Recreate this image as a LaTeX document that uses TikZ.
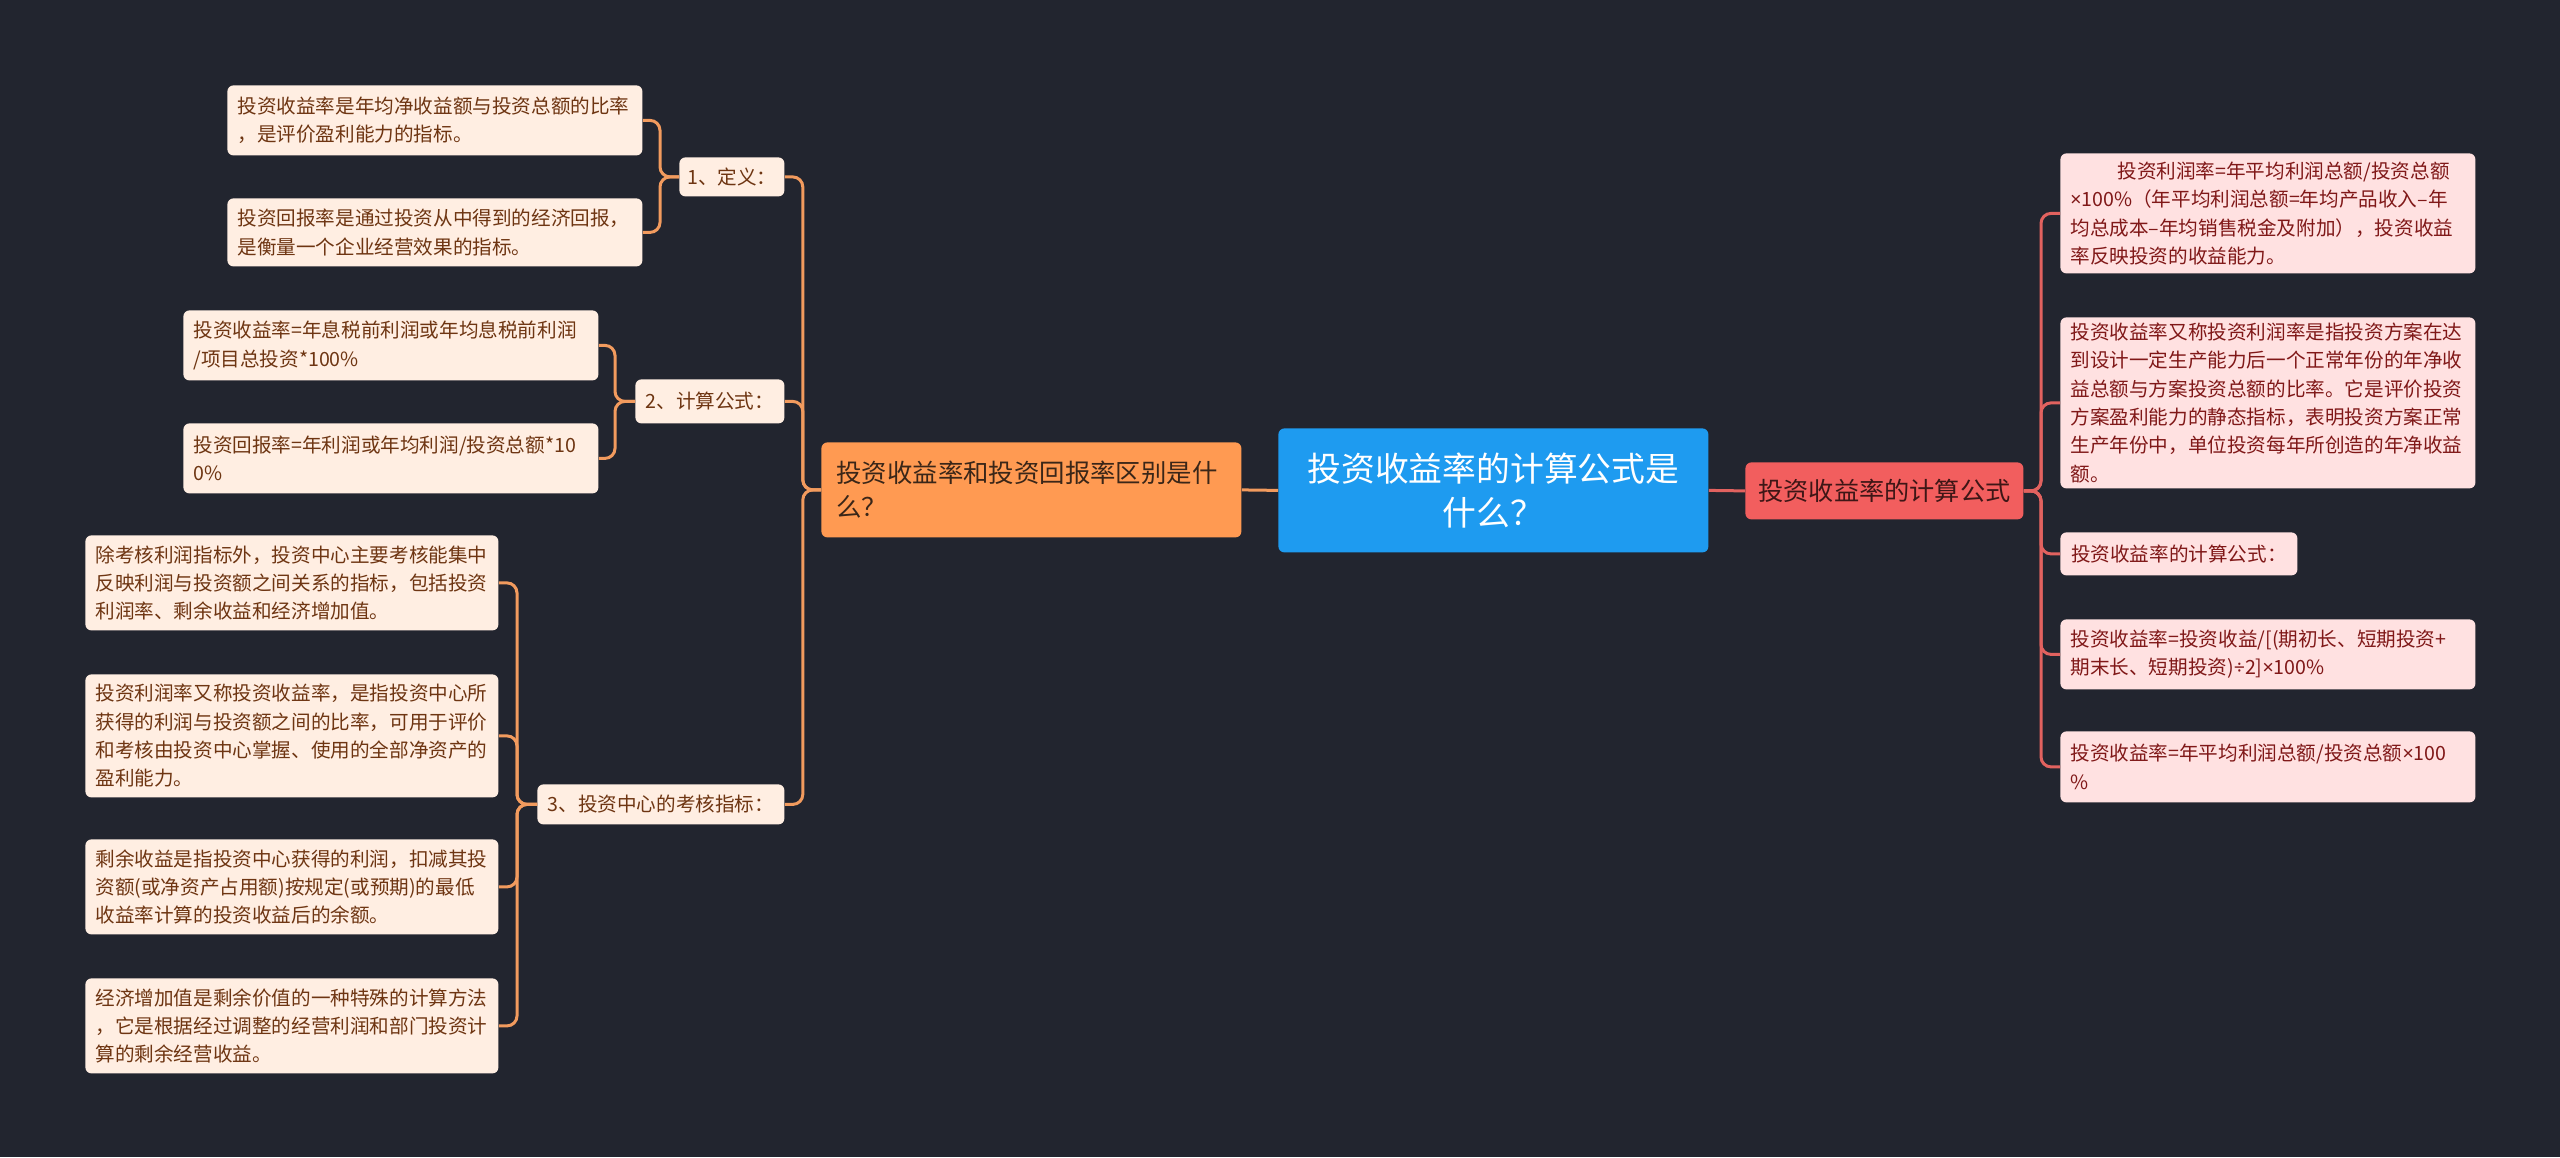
\documentclass[tikz,border=0pt]{standalone}
\usepackage{fontspec}
\setmainfont{Noto Sans CJK SC}
\newfontfamily\latinfont{Noto Sans}
\newcommand{\mytimes}{{\latinfont ×}}
\newcommand{\mydiv}{{\latinfont ÷}}
\definecolor{bg}{HTML}{22252F}
\definecolor{lfill}{HTML}{FFEEE2}
\definecolor{ltext}{HTML}{6E3512}
\definecolor{rfill}{HTML}{FFE1E1}
\definecolor{rtext}{HTML}{801818}
\definecolor{ofill}{HTML}{FF9A52}
\definecolor{otext}{HTML}{3A2618}
\definecolor{bfill}{HTML}{1E9BF0}
\definecolor{redfill}{HTML}{F25E5E}
\definecolor{redtext}{HTML}{3E1616}
\definecolor{oline}{HTML}{F29B5E}
\definecolor{rline}{HTML}{E2625F}
\begin{document}
\begin{tikzpicture}[x=0.5pt,y=-0.5pt,
  box/.style={anchor=north west, rounded corners=3pt, inner ysep=0pt, align=left},
  small/.style={font=\fontsize{9.8pt}{14.2pt}\selectfont},
  lbox/.style={box, small, fill=lfill, text=ltext, inner xsep=5pt},
  rbox/.style={box, small, fill=rfill, text=rtext, inner xsep=5pt},
  olink/.style={draw=oline, line width=1.5pt, rounded corners=5pt},
  rlink/.style={draw=rline, line width=1.5pt, rounded corners=5pt}]
\fill[bg] (0,0) rectangle (2560,1157);
\useasboundingbox (0,0) rectangle (2560,1157);

% root
\node[box, fill=bfill, text=white, align=center, inner xsep=5pt, text width=205pt, minimum height=62pt,
  font=\fontsize{16.9pt}{22pt}\selectfont] (root) at (1278,428) {投资收益率的计算公式是\\什么？};

% left branch
\node[box, fill=ofill, text=otext, inner xsep=7.5pt, text width=195pt, minimum height=47.5pt,
  font=\fontsize{12.7pt}{17pt}\selectfont] (diff) at (821,442) {投资收益率和投资回报率区别是什\\么？};

\node[lbox, align=center, minimum width=52.5pt, minimum height=19.5pt, inner xsep=3pt] (def) at (679,157) {1、定义：};
\node[lbox, text width=197.5pt, minimum height=35pt] (a1) at (227,85) {投资收益率是年均净收益额与投资总额的比率\\，是评价盈利能力的指标。};
\node[lbox, text width=197.5pt, minimum height=34pt] (a2) at (227,198) {投资回报率是通过投资从中得到的经济回报，\\是衡量一个企业经营效果的指标。};

\node[lbox, align=center, minimum width=74.5pt, minimum height=22pt] (calc) at (635,379) {2、计算公式：};
\node[lbox, text width=197.5pt, minimum height=35pt] (b1) at (183,310) {投资收益率=年息税前利润或年均息税前利润\\/项目总投资*100\%};
\node[lbox, text width=197.5pt, minimum height=35pt] (b2) at (183,423) {投资回报率=年利润或年均利润/投资总额*10\\0\%};

\node[lbox, align=center, minimum width=123.5pt, minimum height=20pt] (kh) at (537,784) {3、投资中心的考核指标：};
\node[lbox, text width=196.5pt, minimum height=47.5pt] (c1) at (85,535) {除考核利润指标外，投资中心主要考核能集中\\反映利润与投资额之间关系的指标，包括投资\\利润率、剩余收益和经济增加值。};
\node[lbox, text width=196.5pt, minimum height=61.5pt] (c2) at (85,674) {投资利润率又称投资收益率，是指投资中心所\\获得的利润与投资额之间的比率，可用于评价\\和考核由投资中心掌握、使用的全部净资产的\\盈利能力。};
\node[lbox, text width=196.5pt, minimum height=47.5pt] (c3) at (85,839) {剩余收益是指投资中心获得的利润，扣减其投\\资额(或净资产占用额)按规定(或预期)的最低\\收益率计算的投资收益后的余额。};
\node[lbox, text width=196.5pt, minimum height=47.5pt] (c4) at (85,978) {经济增加值是剩余价值的一种特殊的计算方法\\，它是根据经过调整的经营利润和部门投资计\\算的剩余经营收益。};

% right branch
\node[box, fill=redfill, text=redtext, align=center, minimum width=139pt, minimum height=28.5pt,
  font=\fontsize{12.6pt}{17pt}\selectfont] (red) at (1745,462) {投资收益率的计算公式};

\node[rbox, text width=197.5pt, minimum height=60pt] (r1) at (2060,153) {\hspace*{2.4em}投资利润率=年平均利润总额/投资总额\\\mytimes100\%（年平均利润总额=年均产品收入–年\\均总成本–年均销售税金及附加），投资收益\\率反映投资的收益能力。};
\node[rbox, text width=197.5pt, minimum height=85.5pt] (r2) at (2060,317) {投资收益率又称投资利润率是指投资方案在达\\到设计一定生产能力后一个正常年份的年净收\\益总额与方案投资总额的比率。它是评价投资\\方案盈利能力的静态指标，表明投资方案正常\\生产年份中，单位投资每年所创造的年净收益\\额。};
\node[rbox, align=center, minimum width=118.5pt, minimum height=21.5pt] (r3) at (2060,532) {投资收益率的计算公式：};
\node[rbox, text width=197.5pt, minimum height=35pt] (r4) at (2060,619) {投资收益率=投资收益/[(期初长、短期投资+\\期末长、短期投资)\mydiv2]\mytimes100\%};
\node[rbox, text width=197.5pt, minimum height=35.5pt] (r5) at (2060,731) {投资收益率=年平均利润总额/投资总额\mytimes100\\\%};

% connectors
\draw[olink] (root.west) -- (diff.east);
\draw[rlink] (root.east) -- (red.west);

\foreach \c in {def,calc,kh}
  \draw[olink] (diff.west) -| ([xshift=9pt]\c.east) -- (\c.east);
\foreach \c in {a1,a2}
  \draw[olink] (\c.east) -| ([xshift=-9.5pt]def.west) -- (def.west);
\foreach \c in {b1,b2}
  \draw[olink] (\c.east) -| ([xshift=-10pt]calc.west) -- (calc.west);
\foreach \c in {c1,c2,c3,c4}
  \draw[olink] (\c.east) -| ([xshift=-10pt]kh.west) -- (kh.west);
\foreach \c in {r1,r2,r3,r4,r5}
  \draw[rlink] (red.east) -| ([xshift=-9.5pt]\c.west) -- (\c.west);
\end{tikzpicture}
\end{document}
